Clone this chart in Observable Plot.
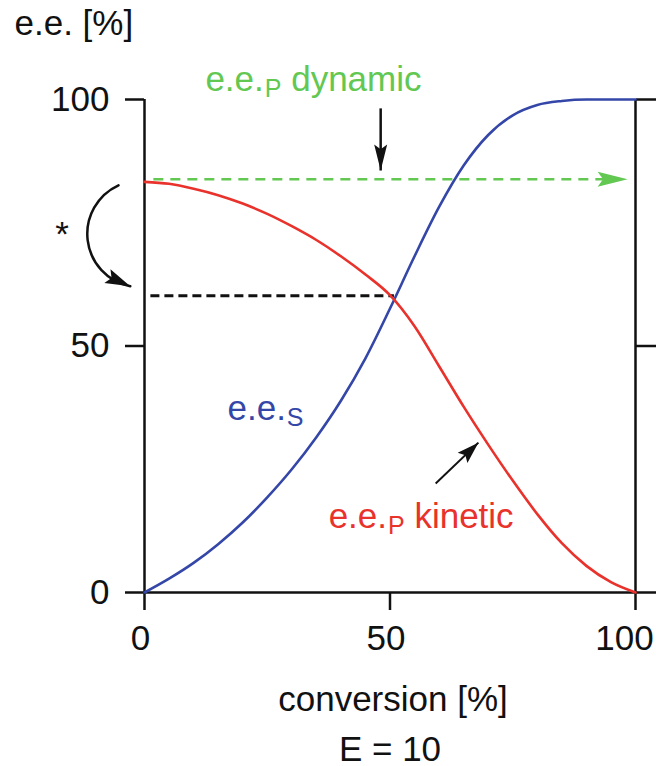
<!DOCTYPE html>
<html>
<head>
<meta charset="utf-8">
<script src="https://cdn.jsdelivr.net/npm/d3@7"></script>
<script src="https://cdn.jsdelivr.net/npm/@observablehq/plot@0.6"></script>
<style>
  html, body { margin: 0; padding: 0; background: #fff; }
</style>
</head>
<body>
<div id="chart"></div>
<script>
// ---------- data ----------
const conversion = [0, 5, 10, 15, 20, 25, 30, 35, 40, 45, 50, 55, 60, 65, 70, 75, 80, 85, 90, 95, 100];
const eeS        = [0, 2.8, 6.0, 9.8, 14.2, 19.3, 25.0, 31.5, 38.9, 47.5, 57.6, 68.2, 78.2, 86.6, 92.8, 96.8, 98.9, 99.7, 100, 100, 100];
const eePKinetic = [83.3, 82.9, 81.9, 80.6, 78.9, 76.8, 74.3, 71.5, 68.2, 64.5, 60.3, 54.0, 45.9, 37.7, 30.0, 22.7, 15.9, 10.0, 5.4, 2.1, 0];

const xTicks = [0, 50, 100];
const yTicks = [0, 50, 100];
const xLabel = "conversion [%]";
const yLabel = "e.e. [%]";
const caption = "E = 10";

// annotation values (data units)
const dynamicEE = 83.8;              // e.e.P dynamic level
const dynamicFrom = 1.8, dynamicTo = 98.4;
const crossEE = 60.2;                // level where the curves cross
const crossFrom = 1.2, crossTo = 50.8;
const dynArrow = {x1: 48.1, y1: 98.2, x2: 48.1, y2: 85.6};
const kinArrow = {x1: 59.3, y1: 22.1, x2: 68.0, y2: 30.4};
const bendArrow = {x1: -5.3, y1: 82.6, x2: -2.9, y2: 62.1};
const star = {x: -16.8, y: 73.2, text: "*"};

const labelDynamic = {x: 12.4, y: 101.7, main: "e.e.", sub: "P", rest: "dynamic"};
const labelS       = {x: 16.9, y: 34.9,  main: "e.e.", sub: "S", rest: ""};
const labelKinetic = {x: 37.5, y: 13.0,  main: "e.e.", sub: "P", rest: "kinetic"};

// ---------- styles ----------
const FONT = "'Liberation Sans', Arial, Helvetica, sans-serif";
const FS = 35, SUB = 25;
const INK = "#111";
const BLUE = "#3447a8", RED = "#e8322b", GREEN = "#62c852";

const curveData = conversion.map((c, i) => ({c, s: eeS[i], p: eePKinetic[i]}));

const ctx = document.createElement("canvas").getContext("2d");
function tw(s, size) { ctx.font = `${size}px 'Liberation Sans'`; return ctx.measureText(s).width; }

// filled arrowhead symbol, tip at the anchor point, pointing along angle (deg, clockwise from +x)
function arrowHead(len, wid, angle) {
  const a = angle * Math.PI / 180, c = Math.cos(a), s = Math.sin(a);
  const rot = (x, y) => [x * c - y * s, x * s + y * c];
  const pts = [[0, 0], [-len, -wid / 2], [-len * 0.82, 0], [-len, wid / 2]].map(([x, y]) => rot(x, y));
  return {draw(context) {
    context.moveTo(...pts[0]);
    for (let i = 1; i < pts.length; ++i) context.lineTo(...pts[i]);
    context.closePath();
  }};
}

function subLabel(l, color) {
  const w1 = tw(l.main, FS), w2 = tw(l.sub, SUB), ws = tw(" ", FS);
  const base = {x: "x", y: "y", textAnchor: "start", lineAnchor: "bottom", fill: color, fontFamily: FONT};
  const marks = [
    Plot.text([l], {...base, text: "main", fontSize: FS}),
    Plot.text([l], {...base, text: "sub", fontSize: SUB, dx: w1 + 1, dy: 6})
  ];
  if (l.rest) marks.push(Plot.text([l], {...base, text: "rest", fontSize: FS, dx: w1 + 1 + w2 + ws}));
  return marks;
}

const chart = Plot.plot({
  width: 656,
  height: 766,
  marginLeft: 144,
  marginRight: 21,
  marginTop: 99,
  marginBottom: 174,
  x: {domain: [0, 100]},
  y: {domain: [0, 100]},
  style: {fontFamily: FONT, fontSize: FS + "px", color: INK, background: "#fff", overflow: "visible"},
  marks: [
    // axes
    Plot.axisY({anchor: "left", ticks: yTicks, tickSize: 19, tickPadding: 16, strokeWidth: 2.5, label: null, fontSize: FS, fontFamily: FONT}),
    Plot.axisY({anchor: "right", ticks: yTicks, tickSize: 20, strokeWidth: 2.5, label: null, tickFormat: () => ""}),
    Plot.axisX({anchor: "bottom", ticks: xTicks, tickSize: 18, strokeWidth: 2.5, label: null, tickFormat: () => ""}),
    Plot.axisX({anchor: "bottom", ticks: xTicks.slice(0, 2), tickSize: 0, tickPadding: 33, dx: -4, label: null, fontSize: FS, fontFamily: FONT}),
    Plot.axisX({anchor: "bottom", ticks: xTicks.slice(2), tickSize: 0, tickPadding: 33, dx: -11, label: null, fontSize: FS, fontFamily: FONT}),
    Plot.ruleX([0, 100], {stroke: INK, strokeWidth: 2.5}),
    Plot.ruleY([0], {stroke: INK, strokeWidth: 2.5}),

    // dashed guide lines
    Plot.link([{}], {x1: () => crossFrom, x2: () => crossTo, y1: () => crossEE, y2: () => crossEE,
      stroke: INK, strokeWidth: 3, strokeDasharray: "9,5"}),
    Plot.link([{}], {x1: () => dynamicFrom, x2: () => dynamicTo - 3, y1: () => dynamicEE, y2: () => dynamicEE,
      stroke: GREEN, strokeWidth: 2.5, strokeDasharray: "10,7"}),
    Plot.dot([{}], {x: () => dynamicTo, y: () => dynamicEE, symbol: arrowHead(30, 15, 0), r: 6, fill: GREEN, stroke: "none"}),

    // curves
    Plot.line(curveData, {x: "c", y: "s", stroke: BLUE, strokeWidth: 2.6, curve: "monotone-x"}),
    Plot.line(curveData, {x: "c", y: "p", stroke: RED, strokeWidth: 2.6, curve: "monotone-x"}),

    // arrows
    Plot.link([dynArrow], {x1: "x1", y1: "y1", x2: "x2", y2: "y2", stroke: INK, strokeWidth: 2.5}),
    Plot.dot([dynArrow], {x: "x2", y: "y2", symbol: arrowHead(26, 13, 90), r: 6, fill: INK, stroke: "none"}),
    Plot.link([kinArrow], {x1: "x1", y1: "y1", x2: "x2", y2: "y2", stroke: INK, strokeWidth: 2}),
    Plot.dot([kinArrow], {x: "x2", y: "y2", symbol: arrowHead(22, 14, -44), r: 6, fill: INK, stroke: "none"}),
    Plot.arrow([bendArrow], {x1: "x1", y1: "y1", x2: "x2", y2: "y2", bend: -72, headLength: 0, stroke: INK, strokeWidth: 2.5}),
    Plot.dot([bendArrow], {x: "x2", y: "y2", symbol: arrowHead(25, 15, 24), r: 6, fill: INK, stroke: "none"}),
    Plot.text([star], {x: "x", y: "y", text: "text", fontSize: FS, dy: 3, fill: INK, fontFamily: FONT}),

    // curve labels
    ...subLabel(labelDynamic, GREEN),
    ...subLabel(labelS, BLUE),
    ...subLabel(labelKinetic, RED),

    // axis titles
    Plot.text([yLabel], {frameAnchor: "top-left", dx: -130, dy: -65, textAnchor: "start", lineAnchor: "bottom", fontSize: FS, fill: INK, fontFamily: FONT}),
    Plot.text([xLabel], {frameAnchor: "bottom", dx: 3, dy: 118, lineAnchor: "bottom", fontSize: FS, fill: INK, fontFamily: FONT}),
    Plot.text([caption], {frameAnchor: "bottom", dy: 168, lineAnchor: "bottom", fontSize: FS, fill: INK, fontFamily: FONT})
  ]
});
document.getElementById("chart").appendChild(chart);
</script>
</body>
</html>
